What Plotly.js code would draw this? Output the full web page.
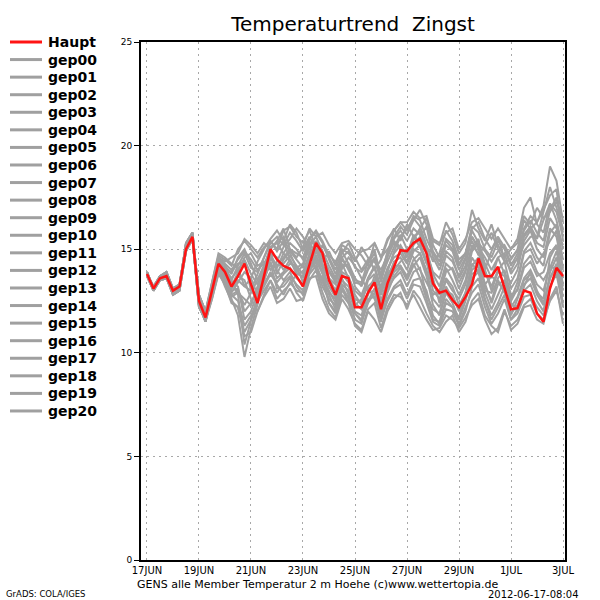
<!DOCTYPE html>
<html><head><meta charset="utf-8">
<script src="https://cdn.plot.ly/plotly-3.0.1.min.js"></script>
<style>html,body{margin:0;padding:0;background:#fff}#chart{width:600px;height:600px}</style>
</head><body><div id="chart"></div>
<script>
// ---- data ----
const startDate = Date.UTC(2012, 5, 17, 0, 0);
const stepHours = 6;
const tickDates = ['2012-06-17','2012-06-19','2012-06-21','2012-06-23','2012-06-25','2012-06-27','2012-06-29','2012-07-01','2012-07-03'];
const tickLabels = ['17JUN','19JUN','21JUN','23JUN','25JUN','27JUN','29JUN','1JUL','3JUL'];
const yTicks = [0,5,10,15,20,25];

const haupt = [13.8,13.1,13.6,13.7,13.0,13.2,15.0,15.6,12.5,11.7,
  13.0,14.3,13.9,13.2,13.7,14.3,13.3,12.4,13.7,15.0,
  14.5,14.2,14.05,13.7,13.2,14.2,15.3,14.8,13.5,12.8,
  13.7,13.6,12.2,12.2,12.9,13.4,12.1,13.35,14.15,14.95,
  14.9,15.3,15.5,14.8,13.35,12.9,13.0,12.55,12.2,12.7,
  13.3,14.55,13.7,13.7,14.15,13.1,12.1,12.15,13.0,12.9,
  11.9,11.5,13.1,14.1,13.7];

const gep00 = [13.8,13.0,13.6,13.8,12.9,13.1,15.1,15.7,12.4,11.6,
  13.2,14.5,14.2,13.8,14.6, 15.0,14.3,13.5,14.2,15.1, 15.3,14.8,14.4,14.0,13.6,
  14.6,15.4,14.9,13.6,13.0, 14.1,14.3,13.2,12.8,13.6, 14.2,13.1,14.0,14.8,15.2,
  14.6,15.5,15.9,15.0,13.8, 13.2,14.3,14.0,13.1,13.9, 15.2,14.8,13.9,13.2,14.0,
  14.4,13.1,13.6,14.9,15.3, 14.6,14.2,15.8,16.2,14.5];
const gep01 = [13.7,13.0,13.5,13.6,12.8,13.0,14.9,15.5,12.3,11.5,
  12.8,14.1,13.6,12.6,11.8, 9.8,11.2,12.3,13.4,14.6, 14.0,13.5,13.9,13.2,12.8,
  13.9,14.5,13.8,12.4,11.9, 13.0,12.7,11.6,11.4,12.5, 13.1,11.8,12.9,13.7,14.1,
  13.5,14.2,14.6,13.7,12.3, 11.8,12.9,12.4,11.6,12.5, 13.8,14.0,12.9,12.1,12.8,
  13.5,12.4,12.0,13.2,13.9, 13.0,12.4,13.6,14.3,12.7];
const gep02 = [13.9,13.1,13.7,13.8,13.0,13.2,15.3,15.8,12.7,11.9,
  13.1,14.4,14.0,13.5,14.2, 14.8,14.1,13.9,14.6,15.3, 15.6,15.2,15.8,15.4,14.9,
  15.5,15.8,15.3,14.5,13.8, 14.6,14.9,14.1,13.9,14.3, 14.8,13.7,14.9,15.6,16.1,
  15.7,16.4,16.9,16.2,14.9, 14.4,15.5,15.2,14.3,14.8, 16.1,15.8,15.0,14.6,15.4,
  15.0,14.2,14.8,16.0,16.6, 16.3,17.1,19.0,18.3,16.3];
const gep03 = [13.8,13.2,13.7,13.9,13.1,13.3,15.2,15.6,12.8,12.0,
  13.4,14.7,14.5,14.2,15.0, 15.4,15.0,14.6,15.1,15.4, 15.0,15.9,16.1,15.6,15.3,
  15.9,15.1,14.4,14.9,14.2, 15.2,15.0,14.4,15.1,14.6, 14.0,14.5,15.4,16.0,15.4,
  16.2,15.6,15.1,14.3,15.4, 15.2,16.3,15.7,14.8,15.3, 16.9,16.0,15.4,16.2,15.2,
  14.6,15.0,15.5,17.0,17.5, 16.2,15.8,17.2,16.4,15.0];
const gep04 = [13.7,13.0,13.5,13.6,12.8,13.0,14.9,15.5,12.3,11.5,
  12.6,13.8,13.3,12.4,12.2, 10.8,11.0,12.0,12.7,13.2, 12.4,12.6,13.1,12.5,12.6,
  13.6,13.7,12.6,11.9,11.6, 12.6,12.1,11.4,11.1,12.1, 12.4,11.2,12.2,12.8,12.7,
  12.3,12.8,12.2,11.6,11.1, 11.2,11.8,11.6,11.2,11.7, 12.3,12.6,11.6,10.9,11.2,
  12.1,11.1,11.4,12.2,12.3, 11.6,11.4,12.6,13.2,11.4];
const gep05 = [13.9,13.1,13.6,13.7,12.9,13.2,15.0,15.5,12.2,11.6,
  13.0,14.2,13.7,13.0,13.1, 12.0,12.4,13.1,14.0,14.8, 14.6,14.0,14.5,13.8,13.9,
  14.8,15.0,14.1,13.2,12.7, 13.8,13.4,12.6,12.4,13.5, 13.8,12.5,13.6,14.4,14.6,
  14.0,14.9,15.2,14.4,13.0, 12.6,13.6,13.2,12.3,12.9, 14.2,14.6,13.2,12.5,13.6,
  14.0,12.8,13.0,14.1,14.4, 13.7,13.9,14.8,15.2,13.6];
const gep06 = [13.9,13.1,13.7,13.8,13.0,13.2,15.3,15.8,12.7,11.9,
  13.3,14.6,14.4,14.6,14.8, 15.5,15.2,14.8,15.3,15.0, 15.4,16.0,15.0,14.6,15.1,
  16.0,15.6,15.8,15.2,14.8, 15.3,15.4,15.0,14.7,14.2, 15.3,14.6,15.5,15.9,16.3,
  16.3,16.8,16.5,16.6,15.5, 15.3,15.8,16.0,15.0,15.5, 16.3,16.5,16.0,15.5,16.0,
  15.5,15.0,15.3,16.6,16.2, 17.0,16.5,16.8,17.3,16.5];
const gep07 = [13.8,13.0,13.6,13.8,12.9,13.1,15.1,15.7,12.4,11.6,
  12.9,14.0,13.5,12.9,13.4, 13.9,13.6,12.8,13.5,14.4, 13.6,13.9,14.3,14.2,13.4,
  14.3,14.1,13.2,12.6,12.3, 13.3,13.0,12.0,11.8,12.9, 13.0,12.2,13.1,13.6,13.9,
  13.2,13.9,14.1,12.8,12.1, 11.9,13.0,12.8,12.0,12.6, 13.6,13.9,12.6,11.8,12.4,
  13.2,11.9,12.3,13.0,13.3, 12.5,12.0,13.9,14.6,13.0];
const gep08 = [13.8,13.2,13.7,13.9,13.1,13.3,15.2,15.6,12.8,12.0,
  13.2,14.3,14.1,13.9,14.3, 14.4,13.0,12.6,13.2,13.8, 13.3,12.8,13.4,13.0,12.9,
  14.0,14.6,15.2,14.6,14.0, 14.9,14.3,13.6,13.2,14.0, 14.5,14.0,14.7,15.3,15.0,
  14.4,15.2,15.6,16.1,14.6, 14.0,14.9,14.6,13.6,14.2, 15.6,15.1,14.6,14.0,14.6,
  13.8,13.4,14.0,15.4,15.9, 15.0,14.6,16.0,15.6,14.0];
const gep09 = [13.9,13.1,13.6,13.7,12.9,13.2,15.0,15.5,12.2,11.6,
  12.7,14.0,13.4,12.8,12.5, 11.3,11.8,12.5,13.0,13.5, 12.9,13.4,13.7,13.3,13.0,
  13.8,14.2,13.5,12.4,12.0, 13.1,12.4,11.9,11.6,12.6, 12.7,11.5,12.6,13.2,13.5,
  12.8,13.5,13.6,13.0,11.8, 11.4,12.4,12.2,11.4,12.2, 12.9,13.3,12.2,11.4,11.9,
  12.6,11.6,11.9,12.7,12.8, 12.2,11.8,13.2,13.8,12.2];
const gep10 = [13.9,13.1,13.7,13.8,13.0,13.2,15.3,15.8,12.7,11.9,
  13.1,14.4,14.0,13.6,14.0, 14.5,13.8,13.3,14.0,15.1, 15.3,15.6,14.8,14.1,14.3,
  15.4,14.6,14.2,13.6,13.3, 14.5,14.1,13.5,13.4,14.4, 15.0,13.6,14.4,15.1,15.7,
  15.0,14.6,14.0,13.4,12.8, 13.0,14.1,13.5,12.8,13.5, 14.9,15.3,14.3,13.6,14.6,
  14.8,13.8,14.3,15.7,16.1, 15.5,16.4,17.2,16.8,15.6];
const gep11 = [13.8,13.0,13.6,13.8,12.9,13.1,15.1,15.7,12.4,11.6,
  12.8,14.0,13.3,12.7,12.9, 12.6,12.3,13.2,14.1,14.9, 13.8,14.5,14.9,14.5,14.1,
  15.2,14.3,13.4,12.9,12.6, 13.6,12.8,12.3,12.6,13.2, 12.6,12.0,13.3,14.0,14.4,
  14.7,15.7,15.3,14.4,13.6, 12.4,13.5,13.0,12.6,13.3, 14.6,14.1,13.3,13.7,13.4,
  13.0,12.2,12.7,13.6,14.0, 13.3,13.0,14.2,14.0,12.4];
const gep12 = [13.7,13.0,13.5,13.6,12.8,13.0,14.9,15.5,12.3,11.5,
  13.0,14.2,13.9,13.4,13.2, 11.6,12.0,12.9,13.8,14.2, 14.1,14.8,15.3,15.0,14.5,
  14.9,14.0,13.6,13.0,12.4, 13.5,13.2,12.4,12.1,12.8, 13.7,13.2,14.1,14.6,14.8,
  14.3,15.0,14.8,13.9,13.3, 12.8,13.9,14.1,13.4,14.0, 15.0,15.5,14.0,13.0,13.9,
  13.7,12.6,13.4,14.8,15.0, 14.3,14.8,15.4,15.9,14.1];
const gep13 = [13.9,13.1,13.6,13.7,12.9,13.2,15.0,15.5,12.2,11.6,
  12.7,13.9,13.6,13.2,13.9, 14.6,14.8,14.2,14.4,14.0, 14.4,15.1,15.5,16.0,15.6,
  15.0,14.4,13.9,13.2,12.9, 14.1,14.6,14.2,13.6,13.0, 13.4,12.8,13.9,14.9,15.6,
  16.0,16.5,16.1,15.2,14.4, 14.8,15.9,15.4,14.5,14.8, 15.4,14.7,15.2,15.8,15.0,
  14.4,14.5,15.0,16.4,16.0, 15.3,15.1,16.5,16.0,15.2];
const gep14 = [13.8,13.0,13.6,13.8,12.9,13.1,15.1,15.7,12.4,11.6,
  13.2,14.5,14.2,13.5,12.8, 10.4,11.5,12.7,13.6,14.3, 13.1,13.2,13.6,12.9,12.5,
  13.5,14.0,12.9,12.1,11.7, 12.8,12.4,11.3,11.0,12.0, 11.6,11.0,12.0,12.6,12.9,
  12.1,13.0,12.6,11.9,11.3, 11.0,11.5,11.8,11.0,11.5, 12.5,12.9,11.8,11.3,11.0,
  12.0,11.3,11.6,12.3,12.6, 11.9,11.6,12.5,13.0,11.8];
const gep15 = [13.8,13.2,13.7,13.9,13.1,13.3,15.2,15.6,12.8,12.0,
  13.0,14.3,13.8,13.1,13.5, 13.2,13.0,13.8,14.6,15.4, 14.9,15.4,16.2,15.8,15.0,
  15.6,15.0,14.6,14.0,13.5, 14.6,14.0,13.4,13.3,14.1, 14.6,13.4,14.6,15.5,15.9,
  15.4,16.0,15.7,14.8,13.9, 13.6,14.7,14.4,13.7,14.5, 15.9,15.3,14.9,14.4,14.9,
  15.2,14.6,14.9,15.9,16.4, 15.8,15.4,16.9,17.5,15.8];
const gep16 = [13.7,13.0,13.5,13.6,12.8,13.0,14.9,15.5,12.3,11.5,
  12.9,14.1,13.5,13.1,13.7, 13.5,12.6,12.0,12.8,13.5, 12.6,13.0,13.3,13.8,13.7,
  14.4,14.9,14.3,13.5,12.9, 13.9,13.7,12.8,12.3,13.6, 14.1,12.9,13.8,14.2,14.2,
  13.6,14.3,13.6,12.6,11.6, 11.5,12.6,12.2,11.7,12.8, 14.0,14.3,13.4,12.4,13.3,
  13.5,12.5,13.1,14.3,14.7, 13.9,13.5,14.1,14.9,13.3];
const gep17 = [13.9,13.1,13.7,13.8,13.0,13.2,15.3,15.8,12.7,11.9,
  13.3,14.6,14.3,14.0,14.5, 14.9,14.5,14.0,14.3,14.7, 14.2,14.6,15.0,14.8,14.6,
  15.5,15.9,15.4,14.7,14.4, 15.0,14.8,14.5,14.9,15.0, 15.3,14.6,15.0,15.4,15.1,
  14.8,15.5,16.0,16.5,15.2, 14.6,15.4,15.0,14.2,14.8, 16.0,16.3,15.5,15.0,15.6,
  15.1,14.3,14.5,15.2,15.6, 15.6,16.8,18.0,17.0,16.0];
const gep18 = [13.9,13.1,13.6,13.7,12.9,13.2,15.0,15.5,12.2,11.6,
  12.6,13.9,13.4,12.8,13.0, 12.3,12.9,13.5,14.2,14.6, 14.2,14.3,14.7,14.2,13.8,
  14.5,15.2,14.6,13.9,13.4, 14.3,13.6,13.0,12.7,13.2, 13.5,12.3,13.2,13.9,14.2,
  13.7,14.5,14.8,14.0,12.6, 12.2,13.2,12.6,12.1,12.9, 14.3,13.9,13.0,12.9,13.5,
  12.9,11.8,12.6,13.5,13.8, 12.9,12.6,14.6,15.2,13.2];
const gep19 = [13.8,13.2,13.7,13.9,13.1,13.3,15.2,15.6,12.8,12.0,
  13.4,14.8,14.6,14.3,14.1, 13.2,13.6,14.4,15.0,15.5, 15.9,15.4,14.5,13.9,14.2,
  15.2,15.6,14.9,14.2,13.6, 14.8,15.3,14.6,14.0,14.5, 14.4,13.8,14.8,15.9,16.3,
  15.9,16.6,16.4,15.5,14.8, 14.2,15.2,14.9,14.0,14.6, 15.6,15.0,14.0,14.9,15.6,
  14.5,14.0,14.6,15.6,16.0, 16.3,16.9,17.6,17.9,15.4];
const gep20 = [13.8,13.0,13.6,13.8,12.9,13.1,15.1,15.7,12.4,11.6,
  12.8,14.0,13.2,12.5,12.2, 11.0,11.6,12.4,13.3,13.9, 13.4,13.8,14.1,13.6,13.3,
  14.1,14.7,13.9,12.8,12.1, 13.2,12.6,11.9,11.5,12.4, 12.9,11.7,12.5,13.1,13.3,
  12.6,13.3,13.2,12.4,11.5, 11.3,12.1,12.0,11.3,12.0, 13.2,13.6,12.5,11.6,12.2,
  12.8,11.6,12.1,13.3,13.6, 12.8,12.3,13.6,14.2,12.2];

const memberNames = ['gep00','gep01','gep02','gep03','gep04','gep05','gep06','gep07','gep08','gep09','gep10',
  'gep11','gep12','gep13','gep14','gep15','gep16','gep17','gep18','gep19','gep20'];
const members = [gep00,gep01,gep02,gep03,gep04,gep05,gep06,gep07,gep08,gep09,gep10,
  gep11,gep12,gep13,gep14,gep15,gep16,gep17,gep18,gep19,gep20];
const mainName = 'Haupt';

// ---- styling / layout ----
const GRAY = 'rgb(160,160,160)';
const RED = 'rgb(255,20,20)';
function timeAt(i){
  const d = new Date(startDate + i*stepHours*3600000);
  return d.toISOString().slice(0,16).replace('T',' ');
}
const times = haupt.map((_, i) => timeAt(i));

const traces = members.map((vals, k) => ({
  type:'scatter', mode:'lines', name: memberNames[k],
  x: vals.map((_, i) => timeAt(i)), y: vals,
  line:{color:GRAY, width:2}, hoverinfo:'skip', showlegend:false
}));
traces.push({type:'scatter', mode:'lines', name: mainName, x: times, y: haupt,
  line:{color:RED, width:2.5}, showlegend:false});

// Plot box in pixels
const L = 141, R = 565, T = 42, B = 560;
const W = 600, H = 600;
const px2x = px => (px - L) / (R - L);
const py2y = py => (B - py) / (B - T);

const annotations = [];
const shapes = [];
const legendNames = [mainName].concat(memberNames);
legendNames.forEach((nm, i) => {
  const py = 42 + i * 17.57;
  shapes.push({type:'line', xref:'paper', yref:'paper', x0:px2x(10), x1:px2x(42), y0:py2y(py), y1:py2y(py),
    line:{color: i === 0 ? RED : GRAY, width:3}});
  annotations.push({xref:'paper', yref:'paper', x:px2x(46), y:py2y(py), xanchor:'left', yanchor:'middle',
    text:nm, showarrow:false, font:{family:'DejaVu Sans', size:14, color:'#000', weight:'bold'}});
});
annotations.push({xref:'paper', yref:'paper', x:px2x(135), y:py2y(584), xanchor:'left', yanchor:'middle',
  text:'GENS alle Member Temperatur 2 m Hoehe (c)www.wettertopia.de', showarrow:false,
  font:{family:'DejaVu Sans', size:11, color:'#000'}});
annotations.push({xref:'paper', yref:'paper', x:px2x(581), y:py2y(594), xanchor:'right', yanchor:'middle',
  text:'2012-06-17-08:04', showarrow:false, font:{family:'DejaVu Sans', size:10, color:'#000'}});
annotations.push({xref:'paper', yref:'paper', x:px2x(4), y:py2y(594), xanchor:'left', yanchor:'middle',
  text:'GrADS: COLA/IGES', showarrow:false, font:{family:'DejaVu Sans', size:8.5, color:'#000'}});

const layout = {
  width:W, height:H, paper_bgcolor:'#fff', plot_bgcolor:'#fff',
  margin:{l:L, r:W-R, t:T, b:H-B, pad:0},
  showlegend:false,
  title:{text:'Temperaturtrend  Zingst', x:0.5, xref:'paper', xanchor:'center', y:1-24/600, yref:'container', yanchor:'middle',
    font:{family:'DejaVu Sans', size:20, color:'#000'}},
  xaxis:{type:'date', range:['2012-06-16 18:28','2012-07-03 01:51'], tickmode:'array', tickvals:tickDates, ticktext:tickLabels,
    showgrid:true, gridcolor:'#a8a8a8', griddash:'2px,4px', gridwidth:1, zeroline:false,
    showline:true, linecolor:'#000', linewidth:2, mirror:true, ticks:'', ticklabelstandoff:0,
    tickfont:{family:'DejaVu Sans', size:10, color:'#000'}},
  yaxis:{range:[0,25], tickmode:'array', tickvals:yTicks, ticktext:yTicks.map(String),
    showgrid:true, gridcolor:'#a8a8a8', griddash:'2px,4px', gridwidth:1, zeroline:false,
    showline:true, linecolor:'#000', linewidth:2, mirror:true, ticks:'outside', ticklen:5, tickcolor:'#000',
    tickfont:{family:'DejaVu Sans', size:9, color:'#000'}},
  annotations, shapes
};
Plotly.newPlot('chart', traces, layout, {staticPlot:true, displayModeBar:false});
</script>
</body></html>
